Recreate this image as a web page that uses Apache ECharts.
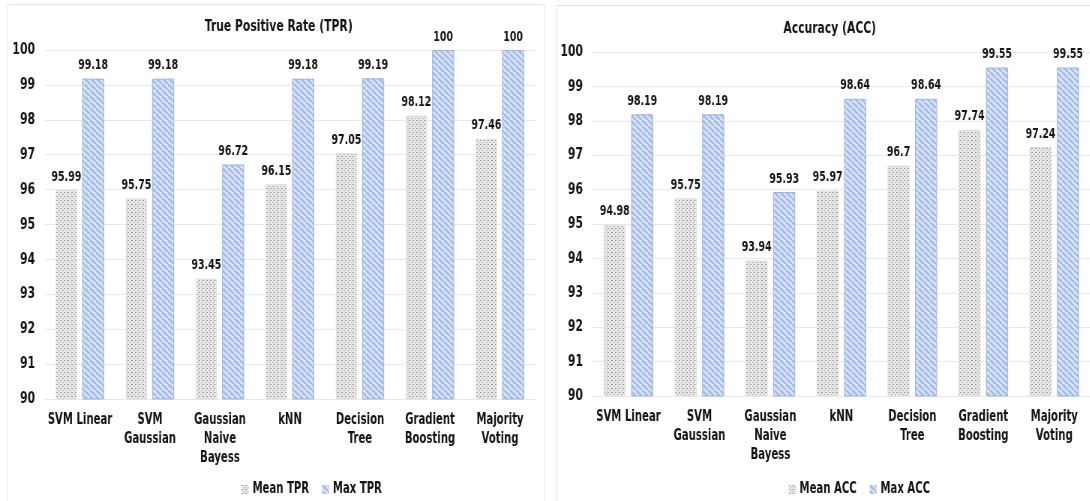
<!DOCTYPE html>
<html>
<head>
<meta charset="utf-8">
<script src="https://cdn.jsdelivr.net/npm/echarts@6/dist/echarts.min.js"></script>
<style>
  html, body { margin: 0; padding: 0; background: #ffffff; overflow: hidden; width: 1090px; height: 501px; }
  #chart { height: 501px; transform-origin: 0 0; }
</style>
</head>
<body>
<div id="chart"></div>
<script>
// Classifier names (x-axis), shared by both panels
const categories = ['SVM Linear', 'SVM\nGaussian', 'Gaussian\nNaive\nBayess', 'kNN', 'Decision\nTree', 'Gradient\nBoosting', 'Majority\nVoting'];

// True Positive Rate (%)
const meanTPR = [95.99, 95.75, 93.45, 96.15, 97.05, 98.12, 97.46];
const maxTPR  = [99.18, 99.18, 96.72, 99.18, 99.19, 100, 100];

// Accuracy (%)
const meanACC = [94.98, 95.75, 93.94, 95.97, 96.7, 97.74, 97.24];
const maxACC  = [98.19, 98.19, 95.93, 98.64, 98.64, 99.55, 99.55];

// Y-axis range
const yMin = 90, yMax = 100, yStep = 1;

// The figure uses a narrow bold face: draw on a wider canvas and squeeze it horizontally.
const S = 0.75;
const X = px => px / S;   // page pixels -> chart units along x
const el = document.getElementById('chart');
el.style.width = X(1090) + 'px';
el.style.transform = 'scaleX(' + S + ')';

const FONT = "'DejaVu Sans Condensed', 'DejaVu Sans', sans-serif";
const INK = '#141414';

// Dotted fill for the mean bars
function dotPattern() {
  const c = document.createElement('canvas');
  c.width = 5; c.height = 4;
  const g = c.getContext('2d');
  g.fillStyle = '#e8e8e8';
  g.fillRect(0, 0, 5, 4);
  g.fillStyle = '#979797';
  g.fillRect(0, 0, 2, 1);
  g.fillStyle = '#b8b8b8';
  g.fillRect(3, 2, 2, 1);
  return c;
}

// Wide downward-diagonal stripes for the max bars
function stripePattern() {
  const w = 8, h = 6;
  const c = document.createElement('canvas');
  c.width = w; c.height = h;
  const g = c.getContext('2d');
  g.fillStyle = '#dbe5f6';
  g.fillRect(0, 0, w, h);
  g.strokeStyle = '#a5bde8';
  g.lineWidth = 2.6;
  g.beginPath();
  for (let k = -w; k <= 2 * w; k += w) {
    g.moveTo(k, 0);
    g.lineTo(k + w, h);
  }
  g.stroke();
  return c;
}

const dots = { image: dotPattern(), repeat: 'repeat' };
const stripes = { image: stripePattern(), repeat: 'repeat' };

function yAxis(gridIndex) {
  return {
    type: 'value', gridIndex, min: yMin, max: yMax, interval: yStep,
    axisLine: { show: false }, axisTick: { show: false },
    splitLine: { lineStyle: { color: '#e9e9e9', width: 1 } },
    axisLabel: { color: INK, fontFamily: FONT, fontWeight: 'bold', fontSize: 16, margin: X(10) }
  };
}

function xAxis(gridIndex) {
  return {
    type: 'category', gridIndex, data: categories,
    axisLine: { show: false }, axisTick: { show: false },
    axisLabel: { color: INK, fontFamily: FONT, fontWeight: 'bold', fontSize: 15, lineHeight: 19, margin: 12, interval: 0 }
  };
}

const barLabel = { show: true, position: 'top', distance: 6, color: INK, fontFamily: FONT, fontWeight: 'bold', fontSize: 14 };

function meanSeries(name, data, idx, w) {
  return {
    name, type: 'bar', xAxisIndex: idx, yAxisIndex: idx, data, barWidth: X(w), barGap: '25%',
    itemStyle: { color: dots, borderColor: '#e0e0e0', borderWidth: 1 },
    label: barLabel
  };
}
function maxSeries(name, data, idx, w) {
  return {
    name, type: 'bar', xAxisIndex: idx, yAxisIndex: idx, data, barWidth: X(w), barGap: '25%',
    itemStyle: { color: stripes, borderColor: '#9cb5e3', borderWidth: 1 },
    label: barLabel
  };
}

const legendText = { color: INK, fontFamily: FONT, fontWeight: 'bold', fontSize: 15 };
const titleText = { color: INK, fontFamily: FONT, fontWeight: 'bold', fontSize: 16 };

const chart = echarts.init(el, null, { renderer: 'canvas' });
chart.setOption({
  animation: false,
  backgroundColor: '#ffffff',
  graphic: [
    { type: 'rect', shape: { x: X(7.5), y: 4.5, width: X(537), height: 520 }, style: { fill: 'none', stroke: '#dfe3ea', lineWidth: 1 }, silent: true, z: -1 },
    { type: 'rect', shape: { x: X(556.5), y: 5.5, width: X(560), height: 520 }, style: { fill: 'none', stroke: '#dfe3ea', lineWidth: 1 }, silent: true, z: -1 }
  ],
  title: [
    { text: 'True Positive Rate (TPR)', left: X(275), top: 14, textAlign: 'center', textStyle: titleText },
    { text: 'Accuracy (ACC)', left: X(826), top: 16, textAlign: 'center', textStyle: titleText }
  ],
  legend: [
    { data: ['Mean TPR', 'Max TPR'], left: X(238), top: 477, icon: 'rect', itemWidth: X(7), itemHeight: 9, itemGap: X(13), itemStyle: { borderWidth: 0 }, textStyle: legendText },
    { data: ['Mean ACC', 'Max ACC'], left: X(785), top: 477, icon: 'rect', itemWidth: X(7), itemHeight: 9, itemGap: X(13), itemStyle: { borderWidth: 0 }, textStyle: legendText }
  ],
  grid: [
    { left: X(45), top: 50, width: X(490), height: 349 },
    { left: X(593), top: 52, width: X(507), height: 344 }
  ],
  xAxis: [xAxis(0), xAxis(1)],
  yAxis: [yAxis(0), yAxis(1)],
  series: [
    meanSeries('Mean TPR', meanTPR, 0, 21),
    maxSeries('Max TPR', maxTPR, 0, 22),
    meanSeries('Mean ACC', meanACC, 1, 22),
    maxSeries('Max ACC', maxACC, 1, 22)
  ]
});
</script>
</body>
</html>
